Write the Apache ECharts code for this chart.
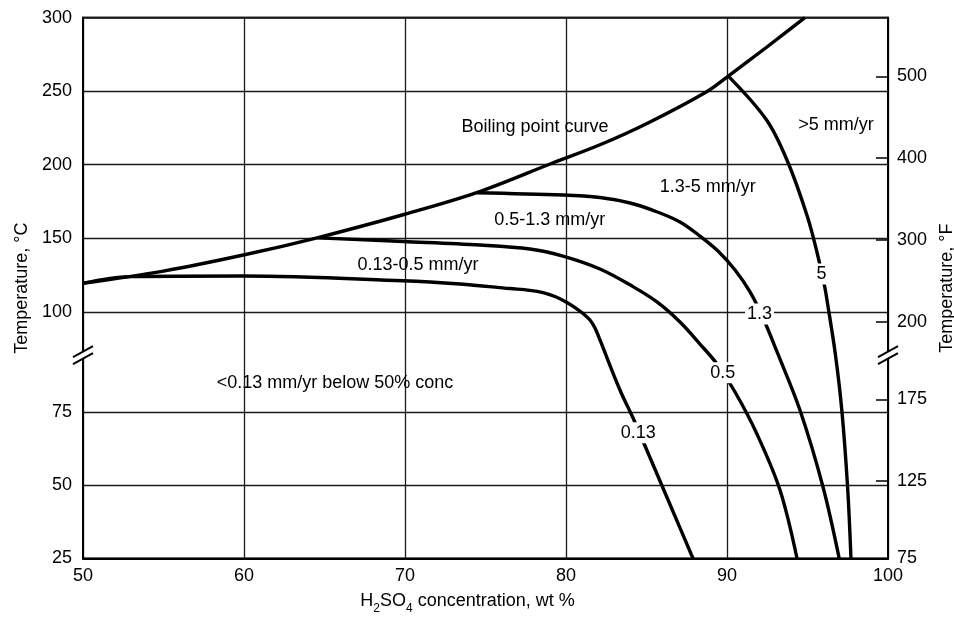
<!DOCTYPE html>
<html><head><meta charset="utf-8">
<script src="https://cdn.jsdelivr.net/npm/echarts@6/dist/echarts.min.js"></script>
<style>html,body{margin:0;padding:0;background:#fff;overflow:hidden}#c{width:954px;height:617px}</style>
</head><body><div id="c"></div>
<script>
// ---------- data ----------
const xTicks = [50, 60, 70, 80, 90, 100];
const celsiusTicks = [25, 50, 75, 100, 150, 200, 250, 300];
const fahrenheitTicks = [500, 400, 300, 200, 175, 125, 75];

const boilingConc = [50, 55, 59.96, 64.6, 69.88, 74.45, 79.13, 82.11, 85.03, 88.74, 90.08, 92.46, 94.84];
const boilingTemp = [119.4, 127.7, 138.6, 150.5, 166.0, 181.0, 201.0, 213.6, 228.1, 249.7, 260.3, 279.9, 300];

const c013Conc = [50, 52.92, 59.96, 69.88, 73.42, 76.52, 77.76, 78.57, 79.32, 80.0, 80.56, 81.06, 81.49, 81.80, 82.11, 83.35, 84.16, 85.03, 86.46, 87.89];
const c013Temp = [119.4, 123.9, 124.3, 121.1, 118.9, 115.8, 114.6, 113.1, 110.4, 106.7, 102.9, 98.8, 94.4, 91.28, 89.35, 81.28, 73.2, 62.0, 43.5, 25];

const c05Conc = [64.6, 69.88, 74.66, 77.76, 79.81, 82.11, 84.16, 85.65, 87.08, 88.32, 89.38, 90.50, 91.86, 93.29, 94.35];
const c05Temp = [150.3, 147.8, 145.4, 142.7, 137.9, 129.1, 117.1, 106.7, 93.05, 88.70, 85.47, 80.95, 67.64, 48.46, 25];

const c13Conc = [74.45, 79.81, 82.11, 83.98, 85.53, 87.08, 88.32, 89.44, 90.50, 91.43, 92.24, 93.11, 94.53, 95.96, 96.97];
const c13Temp = [181.0, 179.4, 177.7, 174.0, 168.5, 161.1, 151.5, 141.3, 128.4, 113.5, 95.77, 87.42, 75.86, 49.59, 25];

const c5Conc = [90.08, 92.46, 93.80, 95.0, 95.60, 96.07, 96.21, 96.72, 97.13, 97.49, 97.70];
const c5Temp = [260.3, 230.4, 201.2, 164.5, 140.0, 116.9, 108.0, 87.25, 75.86, 49.49, 25];

const regionTexts = ['Boiling point curve', '>5 mm/yr', '1.3-5 mm/yr', '0.5-1.3 mm/yr', '0.13-0.5 mm/yr', '<0.13 mm/yr below 50% conc'];
const regionConc = [78.07, 96.77, 88.80, 78.99, 70.81, 65.65];
const regionTemp = [225.7, 227.0, 184.9, 162.4, 131.8, 82.4];

const contourTexts = ['0.13', '0.5', '1.3', '5'];
const contourConc = [84.49, 89.73, 92.02, 95.87];
const contourTemp = [68.08, 84.07, 98.5, 125.7];

const breakTemp = 86.92;

// ---------- broken temperature axis mapping ----------
const Y_MIN = 25, BREAK_LO = 80, BREAK_HI = 92, V100 = 109.49, K_UP = 0.5036;
const V_HI = V100 + (BREAK_HI - 100) * K_UP;
function toV(t) {
  if (t <= BREAK_LO) return t;
  if (t >= BREAK_HI) return V100 + (t - 100) * K_UP;
  return BREAK_LO + (t - BREAK_LO) * (V_HI - BREAK_LO) / (BREAK_HI - BREAK_LO);
}
function fromV(v) {
  if (v <= BREAK_LO) return v;
  if (v >= V_HI) return 100 + (v - V100) / K_UP;
  return BREAK_LO + (v - BREAK_LO) * (BREAK_HI - BREAK_LO) / (V_HI - BREAK_LO);
}
const Y_MAX = toV(300);
const cPos = celsiusTicks.map(toV);
const fPos = fahrenheitTicks.map(f => Math.max(Y_MIN, toV((f - 32) * 5 / 9)));

const FONT = "'Liberation Sans', Arial, Helvetica, sans-serif";
function pts(cx, ty) { return cx.map((c, i) => [c, toV(ty[i])]); }
function curve(cx, ty) {
  return { type: 'line', data: pts(cx, ty), symbol: 'none', smooth: 0.35, z: 3,
    lineStyle: { color: '#000', width: 3.4 }, silent: true };
}
function textSeries(texts, cx, ty, boxed) {
  return {
    type: 'custom', z: 10, clip: false, silent: true,
    data: texts.map((t, i) => ({ value: [cx[i], toV(ty[i])], name: t })),
    renderItem: (params, api) => {
      const p = api.coord([api.value(0), api.value(1)]);
      const style = { text: texts[params.dataIndex], x: p[0], y: p[1], fill: '#000',
        font: '18px ' + FONT, align: 'center', verticalAlign: 'middle' };
      if (boxed) { style.backgroundColor = '#fff'; style.padding = [2, 2, 1, 2]; }
      return { type: 'text', style: style };
    }
  };
}

const el = document.getElementById('c');
const chart = echarts.init(el, null, { renderer: 'canvas', width: 954, height: 617 });
chart.setOption({
  animation: false,
  backgroundColor: '#fff',
  grid: { left: 83, right: 66, top: 17.7, bottom: 58.5, show: true, borderColor: '#000', borderWidth: 2,
    containLabel: false, outerBoundsMode: 'none' },
  xAxis: {
    type: 'value', min: xTicks[0], max: xTicks[xTicks.length - 1], interval: 10,
    axisLine: { show: true, lineStyle: { color: '#000', width: 2 } },
    axisTick: { show: false },
    axisLabel: { color: '#000', fontSize: 18, fontFamily: FONT, margin: 9 },
    splitLine: { show: true, lineStyle: { color: '#1a1a1a', width: 1.3 } },
    name: '{n|H}{s|2}{n|SO}{s|4}{n| concentration, wt %}',
    nameLocation: 'middle', nameGap: 34,
    nameTextStyle: {
      padding: [0, 36, 0, 0],
      rich: {
        n: { fontSize: 18, fontFamily: FONT, color: '#000', verticalAlign: 'top', lineHeight: 22 },
        s: { fontSize: 12, fontFamily: FONT, color: '#000', verticalAlign: 'top', lineHeight: 14, padding: [10, 0, 0, 0] }
      }
    }
  },
  yAxis: [{
    type: 'value', min: Y_MIN, max: Y_MAX, position: 'left',
    axisLine: { show: true, lineStyle: { color: '#000', width: 2 } },
    axisTick: { show: false, customValues: cPos },
    axisLabel: { customValues: cPos, color: '#000', fontSize: 18, fontFamily: FONT, margin: 11,
      formatter: v => String(Math.round(fromV(v))) },
    splitLine: { show: true, lineStyle: { color: '#1a1a1a', width: 1.3 } },
    name: 'Temperature, °C', nameLocation: 'middle', nameRotate: 90, nameGap: 50,
    nameTextStyle: { color: '#000', fontSize: 18, fontFamily: FONT }
  }, {
    type: 'value', min: Y_MIN, max: Y_MAX, position: 'right',
    axisLine: { show: true, lineStyle: { color: '#000', width: 2 } },
    axisTick: { show: true, inside: true, length: 12, customValues: fPos, lineStyle: { color: '#000', width: 1.5 } },
    axisLabel: { customValues: fPos, color: '#000', fontSize: 18, fontFamily: FONT, margin: 9,
      formatter: v => {
        let best = 0;
        fPos.forEach((p, i) => { if (Math.abs(p - v) < Math.abs(fPos[best] - v)) best = i; });
        return String(fahrenheitTicks[best]);
      } },
    splitLine: { show: false },
    name: 'Temperature, °F', nameLocation: 'middle', nameRotate: 90, nameGap: 48,
    nameTextStyle: { color: '#000', fontSize: 18, fontFamily: FONT }
  }],
  series: [
    curve(boilingConc, boilingTemp),
    curve(c013Conc, c013Temp),
    curve(c05Conc, c05Temp),
    curve(c13Conc, c13Temp),
    curve(c5Conc, c5Temp),
    textSeries(regionTexts, regionConc, regionTemp, false),
    textSeries(contourTexts, contourConc, contourTemp, true),
    {
      type: 'custom', z: 20, clip: false, silent: true,
      data: [[xTicks[0], toV(breakTemp)], [xTicks[xTicks.length - 1], toV(breakTemp)]],
      renderItem: (params, api) => {
        const p = api.coord([api.value(0), api.value(1)]);
        const x = p[0], y = p[1];
        return { type: 'group', children: [
          { type: 'polygon', shape: { points: [[x - 10, y + 3], [x + 10, y - 9], [x + 10, y - 3], [x - 10, y + 9]] }, style: { fill: '#fff' } },
          { type: 'line', shape: { x1: x - 10, y1: y + 2, x2: x + 10, y2: y - 9 }, style: { stroke: '#000', lineWidth: 2 } },
          { type: 'line', shape: { x1: x - 10, y1: y + 9, x2: x + 10, y2: y - 2 }, style: { stroke: '#000', lineWidth: 2 } }
        ] };
      }
    }
  ]
});
</script>
</body></html>
